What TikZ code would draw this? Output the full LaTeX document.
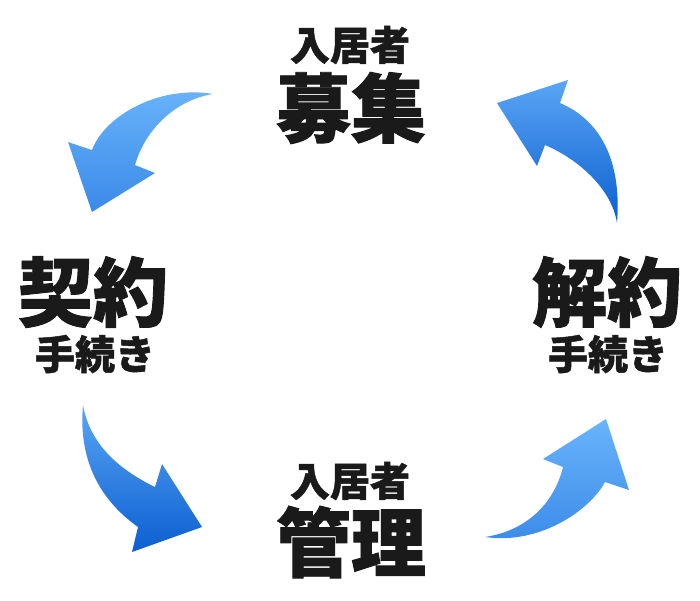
\documentclass[tikz,border=0pt]{standalone}
\usepackage{fontspec}
\newfontfamily\cjk{Noto Sans CJK JP}[BoldFeatures={FakeBold=1.2}]
\definecolor{ink}{HTML}{1A1A1A}
\definecolor{aLightA}{HTML}{6AB4FB}
\definecolor{aDarkA}{HTML}{3A8AE8}
\definecolor{aLightB}{HTML}{5AA5F5}
\definecolor{aDarkB}{HTML}{0B5FD0}
\tikzset{
  big/.style={inner sep=0pt, text=ink, font=\cjk\bfseries\fontsize{75}{75}\selectfont},
  small/.style={inner sep=0pt, text=ink, font=\cjk\bfseries\fontsize{40}{40}\selectfont},
  softarrow/.style={shading=axis, top color=aLightA, bottom color=aDarkA, draw=none},
  deeparrow/.style={shading=axis, top color=aLightB, bottom color=aDarkB, draw=none}
}
\begin{document}
\begin{tikzpicture}[x=1pt,y=-1pt]
\useasboundingbox (0,0) rectangle (700,600);
% labels
\node[small] (topsub) at (350,45) {入居者};
\node[big] (topmain) at (351,108) {募集};
\node[big] (leftmain) at (93,292) {契約};
\node[small] (leftsub) at (95,354) {手続き};
\node[big] (rightmain) at (607,292) {解約};
\node[small] (rightsub) at (608,354) {手続き};
\node[small] (botsub) at (350,481) {入居者};
\node[big] (botmain) at (351,542) {管理};
% arrow top-left
\path[softarrow] (213,94) .. controls (160,85) and (105,115) .. (92,150)
  -- (68,142) -- (92,212) -- (155,173) -- (135,165)
  .. controls (145,130) and (175,100) .. (213,94) -- cycle;
% arrow top-right
\path[deeparrow] (617,223) .. controls (622,160) and (600,120) .. (560,103)
  -- (568,80) -- (497,103) -- (537,166) -- (545,145)
  .. controls (580,160) and (612,190) .. (617,223) -- cycle;
% arrow bottom-left
\path[deeparrow] (83,405) .. controls (78,460) and (100,500) .. (138,527)
  -- (132,552) -- (202,527) -- (162,464) -- (155,487)
  .. controls (120,470) and (90,445) .. (83,405) -- cycle;
% arrow bottom-right
\path[softarrow] (485,537) .. controls (540,545) and (590,510) .. (605,482)
  -- (629,490) -- (606,419) -- (543,459) -- (563,467)
  .. controls (555,500) and (530,530) .. (485,537) -- cycle;
\end{tikzpicture}
\end{document}
